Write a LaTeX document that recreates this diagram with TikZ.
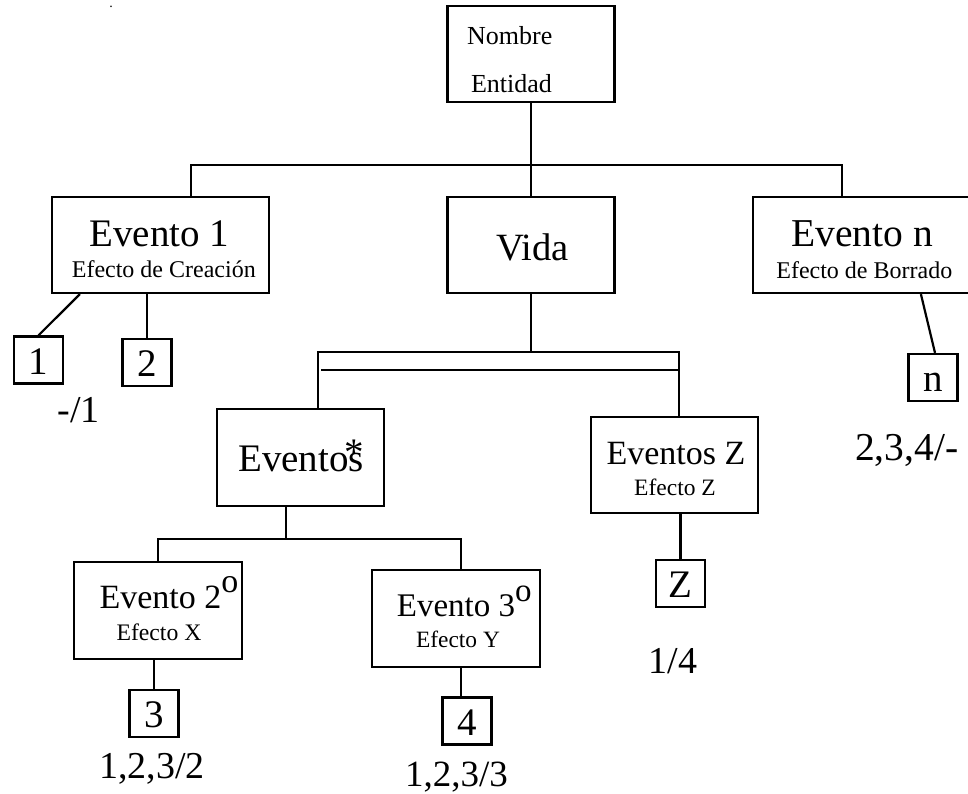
\documentclass[tikz,border=0pt]{standalone}
\usepackage{fontspec}
\setmainfont{Liberation Serif}
\newcommand{\supo}{\rlap{\raisebox{0.47em}{o}}}
\tikzset{
  caja/.style={draw, line width=2.2pt, inner sep=0pt, minimum width=167pt, minimum height=96pt},
  num/.style={draw, line width=2.2pt, inner sep=0pt, minimum width=49pt, minimum height=47pt,
    text height=28pt, text depth=0pt, font=\fontsize{39}{39}\selectfont},
  txt/.style={anchor=base, inner sep=0pt, font=\fontsize{#1}{#1}\selectfont},
}
\begin{document}
\begin{tikzpicture}[x=1pt, y=-1pt, line width=2.2pt]
    \useasboundingbox (0,0) rectangle (968,794);

    %cajas grandes
    \node[caja] (nombre) at (531,54) {};
    \node[caja, minimum width=217pt] (ev1) at (160.5,245) {};
    \node[caja] (vida) at (531,245) {};
    \node[caja, minimum width=218pt] (evn) at (862,245) {};
    \node[caja, minimum height=97pt] (evs) at (300.5,457.5) {};
    \node[caja] (evz) at (674.5,465) {};
    \node[caja, minimum width=168pt, minimum height=97pt] (ev2) at (158,610.5) {};
    \node[caja, minimum width=168pt, minimum height=97pt] (ev3) at (456,618.5) {};

    %cajas chicas
    \node[num] (b1) at (38.5,360) {1};
    \node[num] (b2) at (147,362.5) {2};
    \node[num] (bn) at (933,377.5) {n};
    \node[num] (bz) at (680.5,583.5) {Z};
    \node[num] (b3) at (154,713.5) {3};
    \node[num] (b4) at (467,721) {4};

    %primer nivel
    \coordinate (r1) at (191,165);
    \coordinate (r2) at (842,165);
    \draw (nombre.south) -- (vida.north);
    \draw (r1 |- ev1.north) -- (r1) -- (r2) -- (r2 |- evn.north);
    \draw ([xshift=29pt]ev1.south west) -- (b1.north);
    \draw (b2.north |- ev1.south) -- (b2.north);
    \draw ([xshift=169pt]evn.south west) -- ([xshift=2pt]bn.north);

    %doble linea bajo vida
    \coordinate (d1) at (318,352);
    \coordinate (d2) at (679,352);
    \coordinate (d3) at (321,370);
    \draw (vida.south) -- (vida.south |- d1);
    \draw (evs.north -| d1) -- (d1) -- (d2) -- (evz.north -| d2);
    \draw (d3) -- (d3 -| d2);
    \draw (bz.north |- evz.south) -- (bz.north);

    %eventos 2 y 3
    \coordinate (e0) at (286,539);
    \coordinate (e1) at (158,539);
    \coordinate (e2) at (461,539);
    \draw (evs.south -| e0) -- (e0);
    \draw (ev2.north) -- (e1) -- (e2) -- (ev3.north -| e2);
    \draw (b3.north |- ev2.south) -- (b3.north);
    \draw (ev3.south -| e2) -- (b4.north -| e2);

    %textos
    \node[txt=14] (punto) at (111,8) {.};
    \node[txt=26, anchor=base west] (tnom) at (466,45) {Nombre};
    \node[txt=26, anchor=base west] (tent) at (470,92.7) {Entidad};
    \node[txt=39] (tev1) at (159.3,246.7) {Evento 1};
    \node[txt=24] (tcre) at (163.8,277.3) {Efecto de Creación};
    \node[txt=38.6] (tvida) at (532.5,260) {Vida};
    \node[txt=39.5] (tevn) at (862,246.7) {Evento n};
    \node[txt=24] (tbor) at (864.3,278) {Efecto de Borrado};
    \node[txt=39] (tevs) at (301,471.7) {Eventos\llap{\raisebox{0.15em}{*}}};
    \node[txt=34] (tevz) at (676,464) {Eventos Z};
    \node[txt=23.5] (tefz) at (675,495) {Efecto Z};
    \node[txt=34] (tev2) at (160.5,608.3) {Evento 2\supo};
    \node[txt=23.7] (tefx) at (159,640) {Efecto X};
    \node[txt=33] (tev3) at (456,616.7) {Evento 3\supo};
    \node[txt=23.4] (tefy) at (458,647.7) {Efecto Y};

    %etiquetas
    \node[txt=38] (l1) at (78.5,422) {-/1};
    \node[txt=39.5] (ln) at (906.7,460) {2,3,4/-};
    \node[txt=38] (lz) at (673,673) {1/4};
    \node[txt=38] (l3) at (152,778) {1,2,3/2};
    \node[txt=37] (l4) at (456.5,786.7) {1,2,3/3};
\end{tikzpicture}
\end{document}
